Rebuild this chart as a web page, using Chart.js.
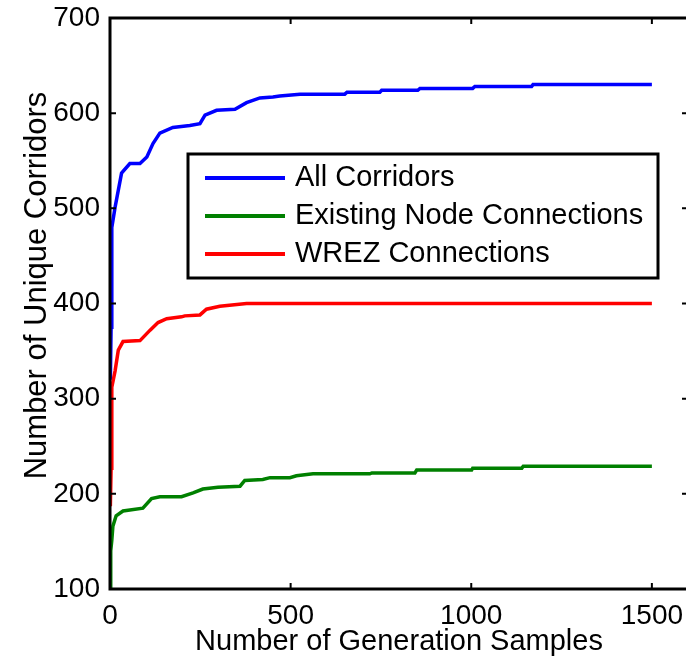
<!DOCTYPE html>
<html>
<head>
<meta charset="utf-8">
<script src="https://cdn.jsdelivr.net/npm/chart.js@4"></script>
<style>
  html, body { margin: 0; padding: 0; background: #fff; overflow: hidden; }
  canvas { display: block; }
</style>
</head>
<body>
<canvas id="myChart" width="690" height="670"></canvas>
<script>
// values (x = samples, y = unique corridors)
const allX = [1, 3, 5, 14, 32, 55, 83, 102, 119, 138, 174, 221, 249, 263, 295, 346, 378, 415, 451, 470, 526, 650, 656, 747, 752, 852, 858, 1004, 1010, 1167, 1171, 1500];
const allY = [320, 375, 480, 501, 537, 547, 547, 554, 568, 579, 585, 587, 589, 598, 603, 604, 611, 616, 617, 618, 620, 620, 622, 622, 624, 624, 626, 626, 628, 628, 630, 630];

const existingX = [1, 2, 5, 8, 17, 36, 91, 115, 138, 198, 230, 257, 299, 360, 373, 423, 443, 498, 516, 562, 719, 725, 844, 849, 1001, 1004, 1140, 1144, 1500];
const existingY = [100, 140, 151, 166, 177, 182, 185, 195, 197, 197, 201, 205, 207, 208, 214, 215, 217, 217, 219, 221, 221, 222, 222, 225, 225, 227, 227, 229, 229];

const wrezX = [1, 3, 5, 14, 23, 36, 83, 111, 133, 157, 198, 207, 249, 267, 304, 378, 1500];
const wrezY = [187, 227, 312, 329, 351, 360, 361, 372, 380, 384, 386, 387, 388, 394, 397, 400, 400];

const seriesNames = ['All Corridors', 'Existing Node Connections', 'WREZ Connections'];
const seriesColors = ['#0000ff', '#008000', '#ff0000'];
const xTicks = [0, 500, 1000, 1500];
const yTicks = [100, 200, 300, 400, 500, 600, 700];
const yTitle = 'Number of Unique Corridors';

function pairs(xs, ys) {
    return xs.map((x, i) => ({ x: x, y: ys[i] }));
}

const FONT = "'Liberation Sans', Arial, sans-serif";

// frame, inward tick marks, y title and the boxed legend inside the plot
const framePlugin = {
    id: 'frame',
    afterDatasetsDraw(chart) {
        const ctx = chart.ctx;
        const a = chart.chartArea;
        const xs = chart.scales.x, ys = chart.scales.y;
        ctx.save();
        ctx.strokeStyle = '#000';
        ctx.lineWidth = 2;
        xTicks.forEach(v => {
            const px = xs.getPixelForValue(v);
            ctx.beginPath();
            ctx.moveTo(px, a.bottom); ctx.lineTo(px, a.bottom - 6);
            ctx.moveTo(px, a.top); ctx.lineTo(px, a.top + 6);
            ctx.stroke();
        });
        yTicks.forEach(v => {
            const py = ys.getPixelForValue(v);
            ctx.beginPath();
            ctx.moveTo(a.left, py); ctx.lineTo(a.left + 6, py);
            ctx.moveTo(a.right, py); ctx.lineTo(a.right - 6, py);
            ctx.stroke();
        });
        ctx.lineWidth = 3;
        ctx.strokeRect(a.left, a.top, a.right - a.left, a.bottom - a.top);

        // y axis title (sits a little above the middle of the axis)
        ctx.save();
        ctx.translate(37, (a.top + a.bottom) / 2 - 18);
        ctx.rotate(-Math.PI / 2);
        ctx.font = '31px ' + FONT;
        ctx.fillStyle = '#000';
        ctx.textAlign = 'center';
        ctx.textBaseline = 'middle';
        ctx.fillText(yTitle, 0, 0);
        ctx.restore();

        // legend
        const lx = a.left + 78, ly = a.top + 136, lw = 470, lh = 124;
        ctx.fillStyle = '#fff';
        ctx.fillRect(lx, ly, lw, lh);
        ctx.lineWidth = 3;
        ctx.strokeRect(lx, ly, lw, lh);
        ctx.font = '29px ' + FONT;
        ctx.textBaseline = 'middle';
        ctx.textAlign = 'left';
        chart.data.datasets.forEach((ds, i) => {
            const cy = ly + 24 + i * 38;
            ctx.strokeStyle = ds.borderColor;
            ctx.lineWidth = 4;
            ctx.beginPath();
            ctx.moveTo(lx + 17, cy); ctx.lineTo(lx + 97, cy);
            ctx.stroke();
            ctx.fillStyle = '#000';
            ctx.fillText(ds.label, lx + 107, cy);
        });
        ctx.restore();
    }
};

const ctx = document.getElementById('myChart').getContext('2d');
new Chart(ctx, {
    type: 'line',
    data: {
        datasets: [
            { label: seriesNames[0], data: pairs(allX, allY), borderColor: seriesColors[0], order: 2 },
            { label: seriesNames[1], data: pairs(existingX, existingY), borderColor: seriesColors[1], order: 1 },
            { label: seriesNames[2], data: pairs(wrezX, wrezY), borderColor: seriesColors[2], order: 0 }
        ]
    },
    options: {
        responsive: false,
        animation: false,
        devicePixelRatio: 1,
        layout: { padding: { top: 18, right: 2, left: 0, bottom: 0 } },
        elements: {
            point: { radius: 0 },
            line: { borderWidth: 3.5, tension: 0, fill: false }
        },
        plugins: {
            legend: { display: false },
            tooltip: { enabled: false }
        },
        scales: {
            x: {
                type: 'linear',
                min: 0,
                max: 1600,
                grid: { display: false, drawTicks: false },
                border: { display: false },
                afterBuildTicks: s => { s.ticks = xTicks.map(v => ({ value: v })); },
                afterFit: s => { s.height = 81; s.paddingLeft = 0; s.paddingRight = 0; },
                ticks: {
                    autoSkip: false, maxRotation: 0, padding: 10, color: '#000',
                    font: { family: FONT, size: 28 },
                    callback: v => String(v)
                },
                title: {
                    display: true,
                    text: 'Number of Generation Samples',
                    color: '#000',
                    padding: { top: 0, bottom: 11 },
                    font: { family: FONT, size: 29 }
                }
            },
            y: {
                type: 'linear',
                min: 100,
                max: 700,
                grid: { display: false, drawTicks: false },
                border: { display: false },
                afterBuildTicks: s => { s.ticks = yTicks.map(v => ({ value: v })); },
                afterFit: s => { s.width = 110; s.paddingTop = 0; s.paddingBottom = 0; },
                ticks: {
                    padding: 10, color: '#000',
                    font: { family: FONT, size: 28 },
                    callback: v => String(v)
                }
            }
        }
    },
    plugins: [framePlugin]
});
</script>
</body>
</html>
